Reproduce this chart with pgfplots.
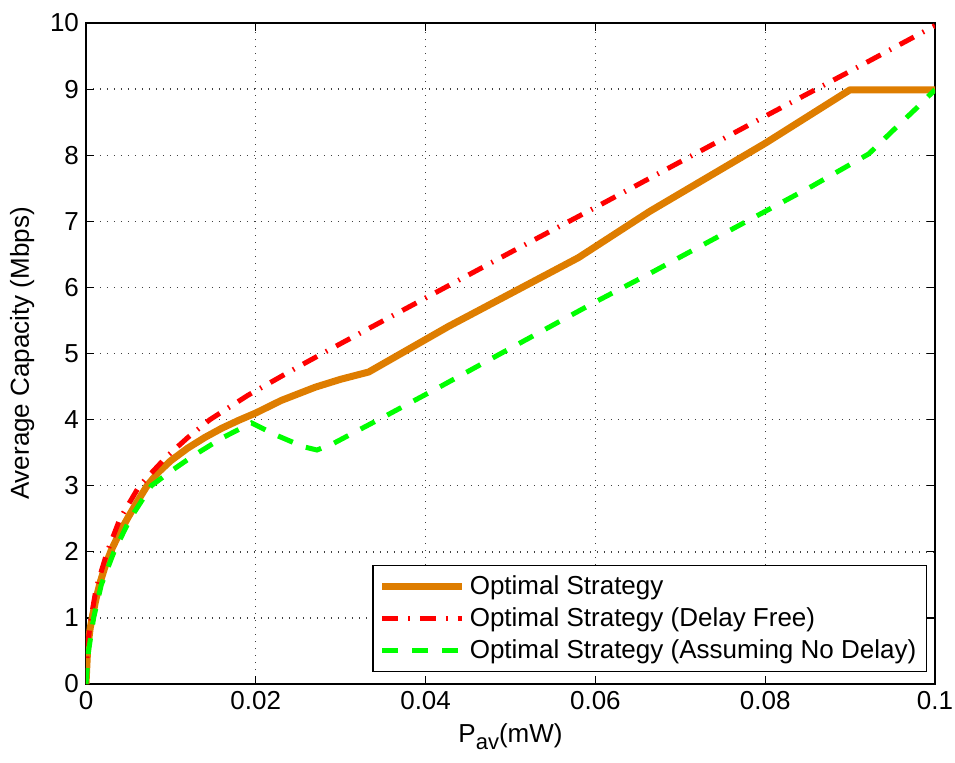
\documentclass[border=0pt]{standalone}
\usepackage{fontspec}
\setmainfont{Liberation Sans}
\usepackage{pgfplots}
\pgfplotsset{compat=1.18}
\usetikzlibrary{calc}
\definecolor{morange}{RGB}{222,125,0}
\begin{document}
\begin{tikzpicture}
\begin{axis}[
  scale only axis,
  width=424.5pt, height=330.5pt,
  xmin=0, xmax=0.1, ymin=0, ymax=10,
  xtick={0,0.02,0.04,0.06,0.08,0.1},
  xticklabels={0,0.02,0.04,0.06,0.08,0.1},
  ytick={0,1,...,10},
  tick pos=both, tick align=inside,
  major tick length=4pt,
  axis line style={line width=0.9pt},
  every tick/.style={black, line width=0.6pt},
  grid=major,
  grid style={black!75, line width=0.7pt, dash pattern=on 0.7pt off 2.8pt},
  ticklabel style={font=\fontsize{13}{15}\selectfont},
  /pgf/number format/assume math mode=true,
  label style={font=\fontsize{13}{15}\selectfont},
  xlabel={P\raisebox{-0.55ex}{\fontsize{11}{12}\selectfont av}(mW)},
  ylabel={Average Capacity (Mbps)},
  xlabel style={yshift=0pt},
  ylabel style={yshift=1pt},
  legend style={at={(1,0)}, anchor=south east, xshift=-4pt, yshift=6pt,
    font=\fontsize{13}{15}\selectfont, draw=black, line width=0.7pt,
    row sep=1pt, inner sep=3pt},
  legend cell align=left,
  legend image code/.code={\draw[#1] (0pt,0pt) -- (40pt,0pt);},
]
\addplot[morange, line width=3.5pt, line join=round] coordinates {
(0,0) (0.0002,0.55) (0.0005,0.85) (0.0008,1.05) (0.0012,1.3) (0.0017,1.55)
(0.0023,1.8) (0.0030,2.03) (0.0040,2.3) (0.0050,2.53) (0.0060,2.75)
(0.0072,3.0) (0.0085,3.2) (0.0100,3.38) (0.0120,3.57) (0.0140,3.73)
(0.0160,3.87) (0.0180,3.99) (0.0200,4.10) (0.0230,4.29) (0.0270,4.49)
(0.0300,4.61) (0.0333,4.72) (0.0427,5.41) (0.0580,6.45) (0.0664,7.15)
(0.0800,8.18) (0.0900,8.99) (0.1000,8.99)
};
\addlegendentry{Optimal Strategy}
\addplot[red, line width=2.5pt, dash pattern=on 8pt off 5pt on 0.8pt off 5pt] coordinates {
(0,0) (0.0002,0.6) (0.0006,1.0) (0.0012,1.45) (0.0025,2.0) (0.0040,2.5)
(0.0063,3.0) (0.0095,3.44) (0.0120,3.73) (0.0146,4.0) (0.0191,4.37)
(0.0250,4.80) (0.0300,5.15) (0.0400,5.84) (0.0500,6.53) (0.0600,7.21)
(0.0700,7.90) (0.0800,8.59) (0.0900,9.27) (0.1000,9.96)
};
\addlegendentry{Optimal Strategy (Delay Free)}
\addplot[green, line width=2.5pt, dash pattern=on 8pt off 7pt] coordinates {
(0,0) (0.0003,0.5) (0.0009,1.0) (0.0018,1.5) (0.0033,2.0) (0.0052,2.5)
(0.0077,3.0) (0.0100,3.22) (0.0126,3.45) (0.0160,3.72) (0.0195,3.95)
(0.0223,3.77) (0.0256,3.59) (0.0272,3.54) (0.0290,3.63) (0.0321,3.84)
(0.0355,4.07) (0.0416,4.49) (0.0500,5.08) (0.0600,5.78) (0.0664,6.21)
(0.0700,6.46) (0.0800,7.15) (0.0855,7.53) (0.0922,8.02) (0.0951,8.38)
(0.0978,8.71) (0.1000,8.99)
};
\addlegendentry{Optimal Strategy (Assuming No Delay)}
\end{axis}
\pgfresetboundingbox
\path[use as bounding box] ($(current axis.south west)+(-43pt,-39pt)$) rectangle ($(current axis.north east)+(10pt,11.5pt)$);
\end{tikzpicture}
\end{document}
